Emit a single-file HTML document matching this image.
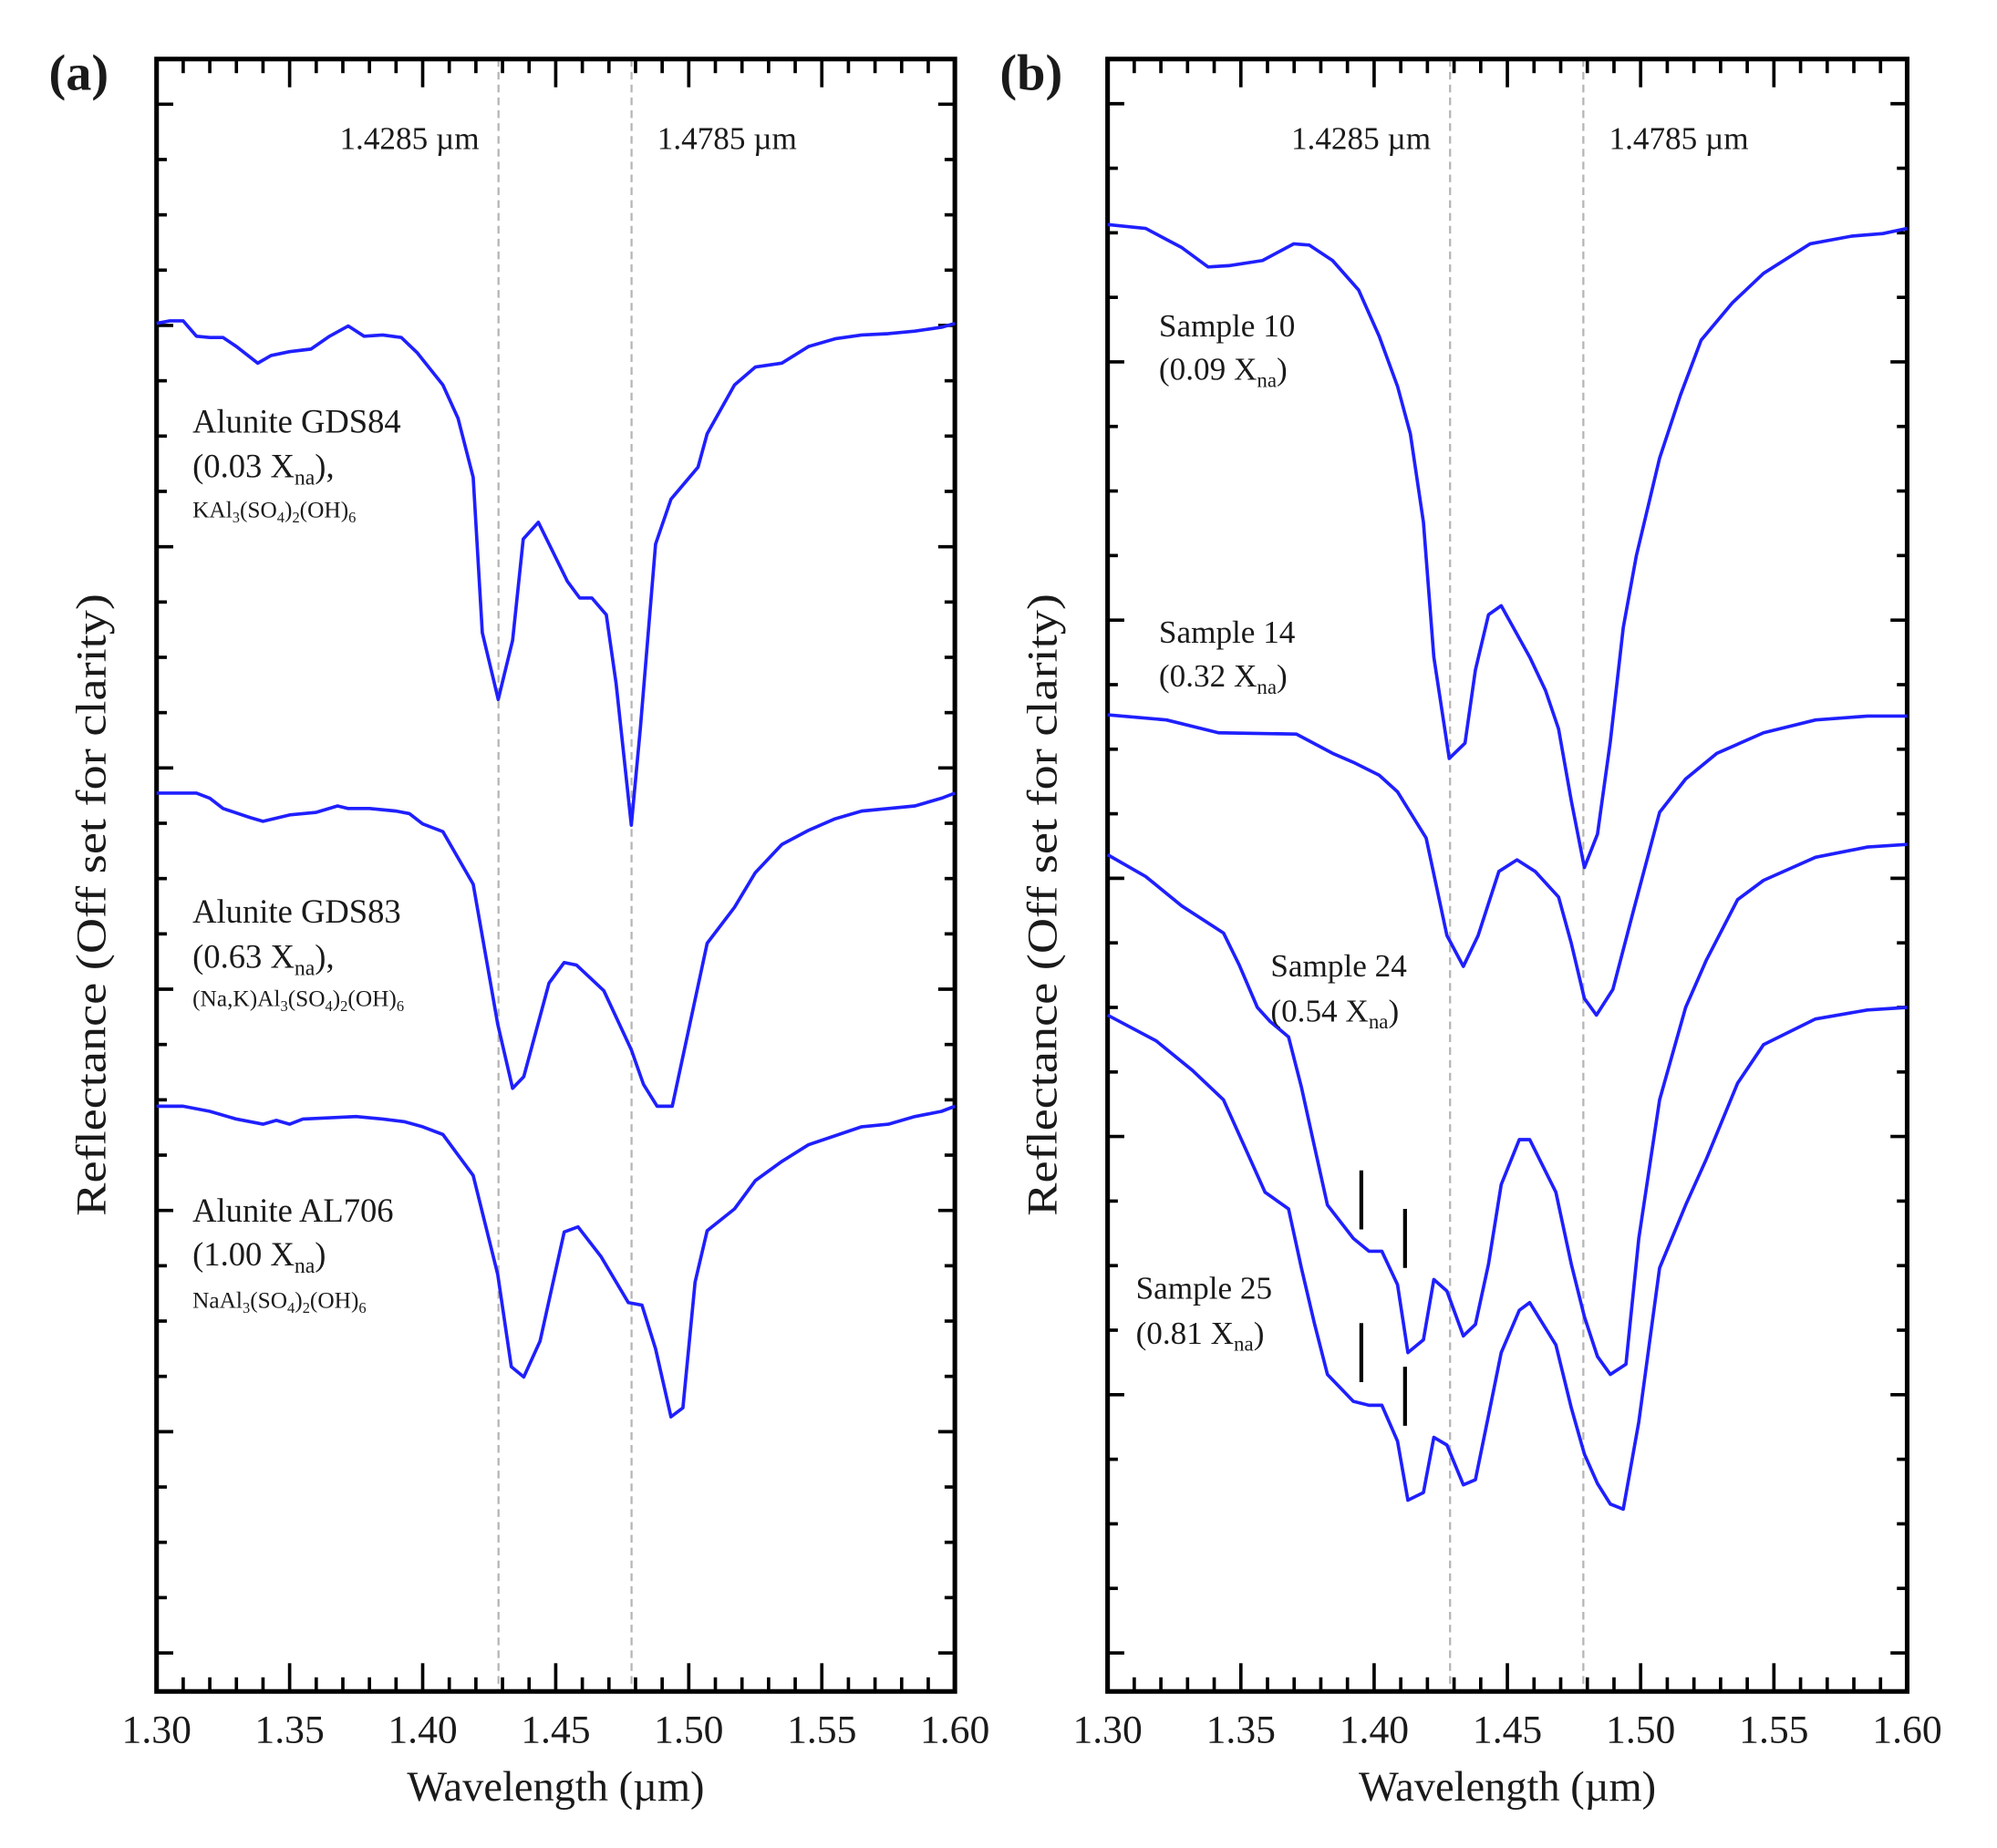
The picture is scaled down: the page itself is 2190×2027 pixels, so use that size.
<!DOCTYPE html>
<html><head><meta charset="utf-8"><style>
html,body{margin:0;padding:0;background:#fff;}
svg{display:block;}
text{font-family:"Liberation Serif",serif;fill:#1a1a1a;}
</style></head><body>
<svg id="fig" width="2190" height="2027" viewBox="0 0 1556 1440" preserveAspectRatio="none" xmlns="http://www.w3.org/2000/svg"></svg>
<script>
// ---- data (wavelength in µm, reflectance offset units) ----
const xTickLabels = ["1.30","1.35","1.40","1.45","1.50","1.55","1.60"];
const refLines = [1.4285, 1.4785];

const wlGDS84 = [1.300,1.305,1.310,1.315,1.320,1.325,1.330,1.338,1.343,1.350,1.358,1.365,1.372,1.378,1.385,1.392,1.398,1.4076,1.4133,1.419,1.4224,1.4284,1.4338,1.4378,1.4435,1.4544,1.459,1.4636,1.469,1.4727,1.4784,1.4818,1.4875,1.4933,1.5035,1.5069,1.5172,1.525,1.535,1.545,1.555,1.565,1.575,1.585,1.595,1.600];
const refGDS84 = [10.66,10.68,10.68,10.56,10.55,10.55,10.48,10.35,10.41,10.44,10.46,10.56,10.64,10.56,10.57,10.55,10.43,10.18,9.92,9.46,8.25,7.73,8.19,8.98,9.11,8.65,8.52,8.52,8.39,7.85,6.75,7.50,8.94,9.29,9.54,9.80,10.18,10.32,10.35,10.48,10.54,10.57,10.58,10.60,10.63,10.66];

const wlGDS83 = [1.30,1.31,1.315,1.32,1.325,1.335,1.34,1.35,1.36,1.368,1.372,1.38,1.39,1.395,1.40,1.4076,1.419,1.4282,1.4338,1.438,1.4475,1.4532,1.4578,1.4681,1.4784,1.483,1.4881,1.4938,1.5069,1.5172,1.525,1.535,1.545,1.555,1.565,1.575,1.585,1.595,1.60];
const refGDS83 = [7.00,7.00,7.00,6.96,6.88,6.81,6.78,6.83,6.85,6.90,6.88,6.88,6.86,6.84,6.76,6.70,6.29,5.20,4.70,4.79,5.52,5.68,5.66,5.46,5.00,4.73,4.56,4.56,5.83,6.11,6.38,6.60,6.71,6.80,6.86,6.88,6.90,6.96,7.00];

const wlAL706 = [1.30,1.31,1.32,1.33,1.34,1.345,1.35,1.355,1.365,1.375,1.385,1.393,1.40,1.4076,1.419,1.4282,1.4333,1.438,1.4441,1.4532,1.4584,1.467,1.4773,1.4824,1.4875,1.4933,1.4978,1.5024,1.5069,1.5172,1.525,1.535,1.545,1.555,1.565,1.575,1.585,1.595,1.60];
const refAL706 = [4.56,4.56,4.52,4.46,4.42,4.45,4.42,4.46,4.47,4.48,4.46,4.44,4.40,4.34,4.02,3.25,2.53,2.45,2.73,3.58,3.62,3.39,3.03,3.01,2.67,2.14,2.21,3.19,3.59,3.76,3.98,4.13,4.26,4.33,4.40,4.42,4.48,4.52,4.56];

const wlS10 = [1.30,1.3143,1.3279,1.3377,1.3455,1.3581,1.3698,1.3757,1.3844,1.3942,1.4019,1.4088,1.4136,1.4185,1.4224,1.4282,1.4341,1.4380,1.4429,1.4477,1.4584,1.4643,1.4692,1.4740,1.4789,1.4838,1.4886,1.4935,1.4984,1.5071,1.5149,1.5227,1.5344,1.5461,1.5636,1.5792,1.5909,1.60];
const refS10 = [11.43,11.40,11.25,11.10,11.11,11.15,11.28,11.27,11.15,10.92,10.56,10.17,9.80,9.11,8.06,7.27,7.39,7.96,8.39,8.46,8.06,7.80,7.50,6.94,6.42,6.68,7.40,8.29,8.85,9.61,10.10,10.53,10.82,11.05,11.28,11.34,11.36,11.40];

const wlS14 = [1.30,1.3221,1.3416,1.3708,1.3844,1.3922,1.4019,1.4088,1.4195,1.4273,1.4335,1.4390,1.4468,1.4536,1.4604,1.4692,1.4740,1.4789,1.4834,1.4896,1.4974,1.5071,1.5169,1.5286,1.5461,1.5656,1.5851,1.60];
const refS14 = [7.61,7.57,7.47,7.46,7.31,7.24,7.14,7.01,6.65,5.89,5.65,5.89,6.39,6.48,6.39,6.19,5.83,5.40,5.27,5.47,6.09,6.85,7.11,7.31,7.47,7.57,7.60,7.60];

const wlS24 = [1.30,1.3143,1.3279,1.3435,1.3494,1.3562,1.3610,1.3679,1.3727,1.3776,1.3825,1.3922,1.3981,1.4029,1.4088,1.4127,1.4185,1.4224,1.4273,1.4335,1.4380,1.4429,1.4477,1.4545,1.4584,1.4682,1.4740,1.4789,1.4838,1.4886,1.4945,1.4993,1.5071,1.5169,1.5247,1.5364,1.5461,1.5656,1.5851,1.60];
const refS24 = [6.52,6.35,6.12,5.91,5.66,5.33,5.22,5.10,4.71,4.25,3.79,3.53,3.43,3.43,3.17,2.64,2.74,3.21,3.12,2.77,2.86,3.33,3.95,4.30,4.30,3.89,3.33,2.92,2.61,2.47,2.55,3.53,4.61,5.33,5.70,6.17,6.32,6.50,6.58,6.60];

const wlS25 = [1.30,1.3182,1.3318,1.3435,1.3513,1.3591,1.3679,1.3727,1.3776,1.3825,1.3922,1.3981,1.4029,1.4088,1.4127,1.4185,1.4224,1.4273,1.4335,1.4380,1.4429,1.4477,1.4545,1.4584,1.4682,1.4740,1.4789,1.4838,1.4886,1.4935,1.4993,1.5071,1.5169,1.5247,1.5364,1.5461,1.5656,1.5851,1.60];
const refS25 = [5.27,5.07,4.84,4.61,4.25,3.89,3.76,3.30,2.87,2.47,2.26,2.23,2.23,1.95,1.49,1.55,1.98,1.92,1.61,1.65,2.15,2.64,2.97,3.03,2.70,2.21,1.85,1.62,1.46,1.42,2.10,3.30,3.79,4.15,4.74,5.04,5.24,5.31,5.33];

const markWl = [1.3952, 1.4116];
const markTopVal = [[4.06, 2.87], [3.76, 2.53]];

// ---- layout ----
const NS = "http://www.w3.org/2000/svg";
const svg = document.getElementById("fig");
const TOP = 46, BOT = 1318, YMAX = 12.72;
function mk(tag, attrs, parent){ const e=document.createElementNS(NS,tag); for(const k in attrs) e.setAttribute(k,attrs[k]); (parent||svg).appendChild(e); return e; }

function makePanel(left, right, id, letter, yMinorStep){
  const g = mk("g",{});
  
  
  const xs = w => left + (w-1.30)/(0.30)*(right-left);
  const ys = v => BOT - v/YMAX*(BOT-TOP);
  refLines.forEach(r=>{
    const l = mk("line",{x1:xs(r),x2:xs(r),y1:TOP,y2:BOT,stroke:"#b5b5b5","stroke-width":1.6,"stroke-dasharray":"6,4"},g);
    
    
  });
  for(let i=0;i<=30;i++){
    const w = 1.30 + i*0.01, x = xs(w), len = (i%5===0)?22:11;
    const t1 = mk("line",{x1:x,x2:x,y1:BOT,y2:BOT-len,stroke:"#000","stroke-width":2.6},g);
    
    
    const t2 = mk("line",{x1:x,x2:x,y1:TOP,y2:TOP+len,stroke:"#000","stroke-width":2.6},g);
    
    
  }
  xTickLabels.forEach(s=>{
    const t = mk("text",{x:xs(parseFloat(s)),y:1358,"font-size":31,"text-anchor":"middle"},g);
    t.textContent = s;
    
    
  });
  for(let i=0;i<60;i++){
    const v = 0.3 + i*yMinorStep, y = ys(v);
    if(y < TOP+25) break;
    const len = (i%4===0)?13:8;
    const a = mk("line",{x1:left,x2:left+len,y1:y,y2:y,stroke:"#000","stroke-width":2.6},g);
    
    
    const b = mk("line",{x1:right,x2:right-len,y1:y,y2:y,stroke:"#000","stroke-width":2.6},g);
    
    
  }
  const fr = mk("rect",{x:left,y:TOP,width:right-left,height:BOT-TOP,fill:"none",stroke:"#000","stroke-width":3.6},g);
  
  
  const r1 = mk("text",{x:xs(1.4285)-15,y:116,"font-size":25,"text-anchor":"end"},g);
  r1.textContent = "1.4285 µm";
  
  
  const r2 = mk("text",{x:xs(1.4785)+20,y:116,"font-size":25},g);
  r2.textContent = "1.4785 µm";
  
  
  const xt = mk("text",{x:(left+right)/2,y:1403,"font-size":33,"text-anchor":"middle"},g);
  xt.textContent = "Wavelength (µm)";
  
  
  const cx = left-40, cy = 705;
  const yt = mk("text",{x:cx,y:cy,"font-size":33,"text-anchor":"middle",transform:"rotate(-90 "+cx+" "+cy+")",textLength:485,lengthAdjust:"spacingAndGlyphs"},g);
  yt.textContent = "Reflectance (Off set for clarity)";
  
  
  const pl = mk("text",{x:left-84,y:70,"font-size":40,"font-weight":"bold"},g);
  pl.textContent = letter;
  
  
  return {g: g, xs: xs, ys: ys};
}

function drawSeries(p, wl, ref, name){
  let d = "";
  for(let i=0;i<wl.length;i++) d += (i?"L":"M") + p.xs(wl[i]).toFixed(1) + "," + p.ys(ref[i]).toFixed(1);
  const path = mk("path",{d:d,fill:"none",stroke:"#1f1fff","stroke-width":2.6,"stroke-linejoin":"round"},p.g);
  
  
}

// parts: array of [string, isSub]
function label(p, x, y, size, parts, name){
  const t = mk("text",{x:x,y:y,"font-size":size},p.g);
  
  
  parts.forEach(function(pt){
    const s = document.createElementNS(NS,"tspan");
    s.textContent = pt[0];
    if(pt[1]){ s.setAttribute("font-size", (size*0.65).toFixed(1)); s.setAttribute("dy", (size*0.22).toFixed(1)); }
    else { s.setAttribute("dy", "0"); }
    t.appendChild(s);
    if(pt[1]){
      // reset baseline for next part
      s.setAttribute("data-sub","1");
    }
  });
  // fix baseline resets: after a sub tspan, next tspan shifts back up
  const kids = t.childNodes;
  for(let i=1;i<kids.length;i++){
    if(kids[i-1].getAttribute("data-sub") && !kids[i].getAttribute("data-sub")) kids[i].setAttribute("dy", (-size*0.22).toFixed(1));
  }
}

const pa = makePanel(122, 744, "a", "(a)", 0.431);
const pb = makePanel(863, 1486, "b", "(b)", 0.503);

drawSeries(pa, wlGDS84, refGDS84, "series-alunite-gds84");
drawSeries(pa, wlGDS83, refGDS83, "series-alunite-gds83");
drawSeries(pa, wlAL706, refAL706, "series-alunite-al706");
drawSeries(pb, wlS10, refS10, "series-sample-10");
drawSeries(pb, wlS14, refS14, "series-sample-14");
drawSeries(pb, wlS24, refS24, "series-sample-24");
drawSeries(pb, wlS25, refS25, "series-sample-25");

function formula(prefix){ return [[prefix,0],["3",1],["(SO",0],["4",1],[")",0],["2",1],["(OH)",0],["6",1]]; }

label(pa,150,337,26,[["Alunite GDS84",0]],"label-gds84-name");
label(pa,150,372,26,[["(0.03 X",0],["na",1],["),",0]],"label-gds84-xna");
label(pa,150,403,18,formula("KAl"),"label-gds84-formula");
label(pa,150,719,26,[["Alunite GDS83",0]],"label-gds83-name");
label(pa,150,754,26,[["(0.63 X",0],["na",1],["),",0]],"label-gds83-xna");
label(pa,150,784,18,formula("(Na,K)Al"),"label-gds83-formula");
label(pa,150,952,26,[["Alunite AL706",0]],"label-al706-name");
label(pa,150,986,26,[["(1.00 X",0],["na",1],[")",0]],"label-al706-xna");
label(pa,150,1019,18,formula("NaAl"),"label-al706-formula");
label(pb,903,262,25,[["Sample 10",0]],"label-sample-10");
label(pb,903,296,25,[["(0.09 X",0],["na",1],[")",0]],"label-sample-10-xna");
label(pb,903,501,25,[["Sample 14",0]],"label-sample-14");
label(pb,903,535,25,[["(0.32 X",0],["na",1],[")",0]],"label-sample-14-xna");
label(pb,990,761,25,[["Sample 24",0]],"label-sample-24");
label(pb,990,796,25,[["(0.54 X",0],["na",1],[")",0]],"label-sample-24-xna");
label(pb,885,1012,25,[["Sample 25",0]],"label-sample-25");
label(pb,885,1047,25,[["(0.81 X",0],["na",1],[")",0]],"label-sample-25-xna");

for(let mi=0; mi<2; mi++){
  for(let ri=0; ri<2; ri++){
    const x = pb.xs(markWl[mi]);
    const ytop = pb.ys(markTopVal[mi][ri]);
    const m = mk("line",{x1:x,x2:x,y1:ytop,y2:ytop+46,stroke:"#000","stroke-width":3},pb.g);
    
    
  }
}
</script>
</body></html>
